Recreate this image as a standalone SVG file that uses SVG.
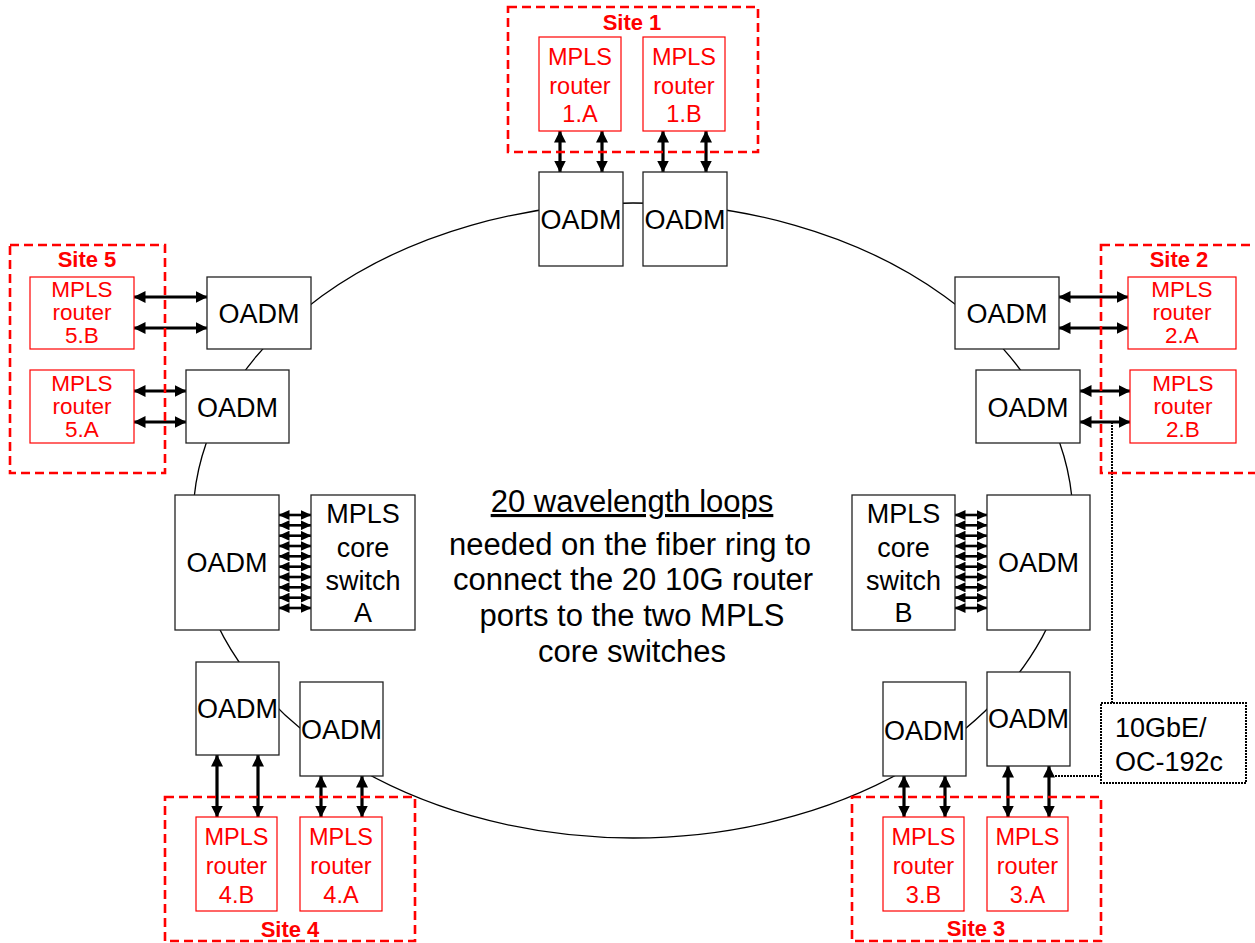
<svg xmlns="http://www.w3.org/2000/svg" width="1255" height="943" viewBox="0 0 1255 943">
<defs>
<marker id="ah" markerUnits="userSpaceOnUse" markerWidth="12" markerHeight="12" refX="11.5" refY="6" orient="auto-start-reverse">
<path d="M0,0 L12,6 L0,12 z" fill="#000"/>
</marker>
<marker id="ahs" markerUnits="userSpaceOnUse" markerWidth="11" markerHeight="10" refX="10.5" refY="5" orient="auto-start-reverse">
<path d="M0,0 L11,5 L0,10 z" fill="#000"/>
</marker>
<style>
.oadm{fill:#fff;stroke:#222;stroke-width:1.3}
.rtr{fill:#fff;stroke:#f00;stroke-width:1.2}
.site{fill:none;stroke:#f00;stroke-width:2.6;stroke-dasharray:9 5}
.ring{fill:none;stroke:#000;stroke-width:1.3}
.arr{stroke:#000;stroke-width:3.2;marker-start:url(#ah);marker-end:url(#ah)}
.arrs{stroke:#000;stroke-width:2.6;marker-start:url(#ahs);marker-end:url(#ahs)}
.dot{fill:none;stroke:#000;stroke-width:2;stroke-dasharray:2 1}
.t{font-family:"Liberation Sans",Arial,sans-serif;text-anchor:middle}
.to{font-size:27px;fill:#000}
.tr{font-size:23.5px;fill:#f00}
.trs{font-size:22.5px;fill:#f00}
.ts{font-size:22px;font-weight:bold;fill:#f00}
.tc{font-size:31px;fill:#000}
</style>
</defs>

<g id="connectors">
<ellipse class="ring" cx="633" cy="520.5" rx="440" ry="317.5"/>
<line class="arr" x1="560" y1="131" x2="560" y2="172"/>
<line class="arr" x1="602" y1="131" x2="602" y2="172"/>
<line class="arr" x1="663" y1="131" x2="663" y2="172"/>
<line class="arr" x1="706" y1="131" x2="706" y2="172"/>
<line class="arr" x1="134" y1="297" x2="207" y2="297"/>
<line class="arr" x1="134" y1="328" x2="207" y2="328"/>
<line class="arr" x1="134" y1="391" x2="186" y2="391"/>
<line class="arr" x1="134" y1="422" x2="186" y2="422"/>
<line class="arr" x1="1059" y1="297" x2="1128" y2="297"/>
<line class="arr" x1="1059" y1="328" x2="1128" y2="328"/>
<line class="arr" x1="1080" y1="391" x2="1130" y2="391"/>
<line class="arr" x1="1080" y1="422" x2="1130" y2="422"/>
<line class="arr" x1="217" y1="755" x2="217" y2="817"/>
<line class="arr" x1="258" y1="755" x2="258" y2="817"/>
<line class="arr" x1="321" y1="776" x2="321" y2="817"/>
<line class="arr" x1="362" y1="776" x2="362" y2="817"/>
<line class="arr" x1="904" y1="776" x2="904" y2="817"/>
<line class="arr" x1="945" y1="776" x2="945" y2="817"/>
<line class="arr" x1="1008" y1="766" x2="1008" y2="817"/>
<line class="arr" x1="1049" y1="766" x2="1049" y2="817"/>
<g id="coreA-links">
<line class="arrs" x1="279" y1="515" x2="311" y2="515"/>
<line class="arrs" x1="279" y1="525.3" x2="311" y2="525.3"/>
<line class="arrs" x1="279" y1="535.7" x2="311" y2="535.7"/>
<line class="arrs" x1="279" y1="546" x2="311" y2="546"/>
<line class="arrs" x1="279" y1="556.3" x2="311" y2="556.3"/>
<line class="arrs" x1="279" y1="566.7" x2="311" y2="566.7"/>
<line class="arrs" x1="279" y1="577" x2="311" y2="577"/>
<line class="arrs" x1="279" y1="587.3" x2="311" y2="587.3"/>
<line class="arrs" x1="279" y1="597.7" x2="311" y2="597.7"/>
<line class="arrs" x1="279" y1="608" x2="311" y2="608"/>
</g>
<g id="coreB-links">
<line class="arrs" x1="955" y1="515" x2="987" y2="515"/>
<line class="arrs" x1="955" y1="525.3" x2="987" y2="525.3"/>
<line class="arrs" x1="955" y1="535.7" x2="987" y2="535.7"/>
<line class="arrs" x1="955" y1="546" x2="987" y2="546"/>
<line class="arrs" x1="955" y1="556.3" x2="987" y2="556.3"/>
<line class="arrs" x1="955" y1="566.7" x2="987" y2="566.7"/>
<line class="arrs" x1="955" y1="577" x2="987" y2="577"/>
<line class="arrs" x1="955" y1="587.3" x2="987" y2="587.3"/>
<line class="arrs" x1="955" y1="597.7" x2="987" y2="597.7"/>
<line class="arrs" x1="955" y1="608" x2="987" y2="608"/>
</g>
<path class="dot" d="M1112,422 V703"/>
<path class="dot" d="M1049,776 H1101"/>
</g>

<g id="site1">
<rect class="site" x="508" y="7" width="250" height="145"/>
<text class="t ts" x="632" y="30">Site 1</text>
</g>
<g id="router1A"><rect class="rtr" x="539" y="37" width="82" height="94"/>
<text class="t tr" x="580" y="65">MPLS</text><text class="t tr" x="580" y="94">router</text><text class="t tr" x="580" y="122">1.A</text></g>
<g id="router1B"><rect class="rtr" x="643" y="37" width="82" height="94"/>
<text class="t tr" x="684" y="65">MPLS</text><text class="t tr" x="684" y="94">router</text><text class="t tr" x="684" y="122">1.B</text></g>
<g id="oadm1A"><rect class="oadm" x="539" y="172" width="84" height="94"/><text class="t to" x="581" y="229">OADM</text></g>
<g id="oadm1B"><rect class="oadm" x="643" y="172" width="84" height="94"/><text class="t to" x="685" y="229">OADM</text></g>

<g id="site5">
<rect class="site" x="10" y="245" width="155" height="228"/>
<text class="t ts" x="87" y="267">Site 5</text>
</g>
<g id="router5B"><rect class="rtr" x="30" y="277" width="104" height="72"/>
<text class="t trs" x="82" y="297">MPLS</text><text class="t trs" x="82" y="320">router</text><text class="t trs" x="82" y="343">5.B</text></g>
<g id="router5A"><rect class="rtr" x="30" y="370" width="104" height="73"/>
<text class="t trs" x="82" y="391">MPLS</text><text class="t trs" x="82" y="414">router</text><text class="t trs" x="82" y="437">5.A</text></g>
<g id="oadm5B"><rect class="oadm" x="207" y="277" width="104" height="72"/><text class="t to" x="259" y="323">OADM</text></g>
<g id="oadm5A"><rect class="oadm" x="186" y="370" width="103" height="73"/><text class="t to" x="237.5" y="417">OADM</text></g>

<g id="site2">
<rect class="site" x="1101" y="245" width="160" height="228"/>
<text class="t ts" x="1179" y="267">Site 2</text>
</g>
<g id="router2A"><rect class="rtr" x="1128" y="277" width="108" height="72"/>
<text class="t trs" x="1182" y="297">MPLS</text><text class="t trs" x="1182" y="320">router</text><text class="t trs" x="1182" y="343">2.A</text></g>
<g id="router2B"><rect class="rtr" x="1130" y="370" width="106" height="73"/>
<text class="t trs" x="1183" y="391">MPLS</text><text class="t trs" x="1183" y="414">router</text><text class="t trs" x="1183" y="437">2.B</text></g>
<g id="oadm2A"><rect class="oadm" x="955" y="277" width="104" height="72"/><text class="t to" x="1007" y="323">OADM</text></g>
<g id="oadm2B"><rect class="oadm" x="976" y="370" width="104" height="73"/><text class="t to" x="1028" y="417">OADM</text></g>

<g id="oadmCoreA"><rect class="oadm" x="175" y="495" width="104" height="135"/><text class="t to" x="227" y="572">OADM</text></g>
<g id="coreSwitchA"><rect class="oadm" x="311" y="495" width="104" height="135"/>
<text class="t to" x="363" y="523">MPLS</text><text class="t to" x="363" y="557">core</text><text class="t to" x="363" y="590">switch</text><text class="t to" x="363" y="622">A</text></g>
<g id="coreSwitchB"><rect class="oadm" x="852" y="495" width="103" height="135"/>
<text class="t to" x="903.5" y="523">MPLS</text><text class="t to" x="903.5" y="557">core</text><text class="t to" x="903.5" y="590">switch</text><text class="t to" x="903.5" y="622">B</text></g>
<g id="oadmCoreB"><rect class="oadm" x="987" y="495" width="103" height="135"/><text class="t to" x="1038.5" y="572">OADM</text></g>

<g id="centerText">
<text class="t tc" x="632" y="512" text-decoration="underline">20 wavelength loops</text>
<text class="t tc" x="630" y="555">needed on the fiber ring to</text>
<text class="t tc" x="633" y="590">connect the 20 10G router</text>
<text class="t tc" x="632" y="626">ports to the two MPLS</text>
<text class="t tc" x="632" y="662">core switches</text>
</g>

<g id="site4">
<rect class="site" x="165" y="797" width="250" height="144"/>
<text class="t ts" x="290" y="937">Site 4</text>
</g>
<g id="oadm4B"><rect class="oadm" x="196" y="662" width="83" height="93"/><text class="t to" x="237.5" y="718">OADM</text></g>
<g id="oadm4A"><rect class="oadm" x="300" y="682" width="83" height="94"/><text class="t to" x="341.5" y="739">OADM</text></g>
<g id="router4B"><rect class="rtr" x="196" y="817" width="81" height="94"/>
<text class="t tr" x="236.5" y="845">MPLS</text><text class="t tr" x="236.5" y="874">router</text><text class="t tr" x="236.5" y="903">4.B</text></g>
<g id="router4A"><rect class="rtr" x="300" y="817" width="82" height="94"/>
<text class="t tr" x="341" y="845">MPLS</text><text class="t tr" x="341" y="874">router</text><text class="t tr" x="341" y="903">4.A</text></g>

<g id="site3">
<rect class="site" x="852" y="797" width="249" height="144"/>
<text class="t ts" x="976" y="936">Site 3</text>
</g>
<g id="oadm3B"><rect class="oadm" x="883" y="682" width="83" height="94"/><text class="t to" x="924.5" y="740">OADM</text></g>
<g id="oadm3A"><rect class="oadm" x="987" y="672" width="83" height="94"/><text class="t to" x="1028.5" y="728">OADM</text></g>
<g id="router3B"><rect class="rtr" x="883" y="817" width="81" height="94"/>
<text class="t tr" x="923.5" y="845">MPLS</text><text class="t tr" x="923.5" y="874">router</text><text class="t tr" x="923.5" y="903">3.B</text></g>
<g id="router3A"><rect class="rtr" x="987" y="817" width="81" height="94"/>
<text class="t tr" x="1027.5" y="845">MPLS</text><text class="t tr" x="1027.5" y="874">router</text><text class="t tr" x="1027.5" y="903">3.A</text></g>

<g id="label10GbE">
<rect class="dot" x="1101" y="703" width="145" height="80"/>
<text class="t to" x="1115" y="737" style="text-anchor:start">10GbE/</text>
<text class="t to" x="1115" y="771" style="text-anchor:start">OC-192c</text>
</g>
</svg>
